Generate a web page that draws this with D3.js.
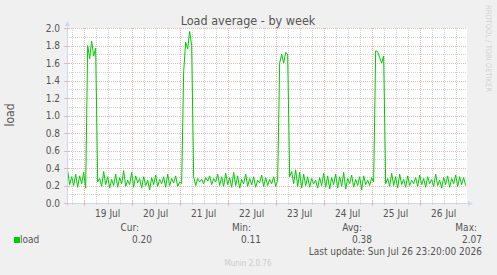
<!DOCTYPE html>
<html>
<head>
<meta charset="utf-8">
<script src="https://cdn.jsdelivr.net/npm/d3@7"></script>
<style>
  body { margin: 0; background: #f0f0f0; }
  svg { display: block; }
  text { font-family: "DejaVu Sans Condensed", "DejaVu Sans", sans-serif; font-stretch: condensed; fill: #555; }
</style>
</head>
<body>
<div id="chart"></div>
<script>
// hourly load readings, one list per day (Jul 18 starts at 16:00)
var jul18 = [0.37, 0.21, 0.30, 0.20, 0.33, 0.18, 0.31, 0.22];
var jul19 = [0.35, 0.17, 1.80, 1.65, 1.85, 1.68, 1.77, 0.24, 0.28, 0.19, 0.36, 0.21,
             0.30, 0.17, 0.27, 0.20, 0.33, 0.18, 0.29, 0.22, 0.37, 0.19, 0.26, 0.21];
var jul20 = [0.35, 0.18, 0.31, 0.23, 0.28, 0.17, 0.30, 0.20, 0.26, 0.15, 0.29, 0.21,
             0.32, 0.19, 0.27, 0.22, 0.30, 0.18, 0.33, 0.20, 0.28, 0.23, 0.31, 0.19];
var jul21 = [0.24, 0.22, 1.50, 1.84, 1.76, 1.96, 1.80, 0.30, 0.20, 0.28, 0.24, 0.27,
             0.22, 0.29, 0.25, 0.31, 0.21, 0.28, 0.24, 0.33, 0.20, 0.30, 0.19, 0.34];
var jul22 = [0.21, 0.29, 0.18, 0.35, 0.20, 0.31, 0.17, 0.27, 0.22, 0.33, 0.19, 0.28,
             0.21, 0.30, 0.18, 0.26, 0.23, 0.32, 0.19, 0.29, 0.20, 0.27, 0.22, 0.30];
var jul23 = [0.19, 0.26, 1.60, 1.70, 1.60, 1.72, 1.70, 0.30, 0.36, 0.22, 0.38, 0.19,
             0.35, 0.17, 0.33, 0.20, 0.30, 0.18, 0.28, 0.22, 0.26, 0.17, 0.29, 0.20];
var jul24 = [0.34, 0.18, 0.31, 0.16, 0.29, 0.21, 0.33, 0.17, 0.30, 0.19, 0.35, 0.16,
             0.28, 0.22, 0.32, 0.18, 0.27, 0.20, 0.30, 0.15, 0.31, 0.21, 0.26, 0.20];
var jul25 = [0.29, 0.24, 1.74, 1.73, 1.66, 1.60, 1.68, 0.22, 0.28, 0.19, 0.34, 0.20,
             0.30, 0.17, 0.33, 0.21, 0.27, 0.18, 0.31, 0.20, 0.26, 0.22, 0.29, 0.19];
var jul26 = [0.32, 0.21, 0.28, 0.18, 0.30, 0.22, 0.27, 0.19, 0.33, 0.20, 0.26, 0.17,
             0.29, 0.21, 0.31, 0.18, 0.28, 0.22, 0.32, 0.19, 0.30, 0.21, 0.29, 0.20];

var dayLists = [jul18, jul19, jul20, jul21, jul22, jul23, jul24, jul25, jul26];
var dayStarts = ["2026-07-18T16:00Z", "2026-07-19T00:00Z", "2026-07-20T00:00Z", "2026-07-21T00:00Z",
                 "2026-07-22T00:00Z", "2026-07-23T00:00Z", "2026-07-24T00:00Z", "2026-07-25T00:00Z",
                 "2026-07-26T00:00Z"];
var dayLabels = ["19 Jul", "20 Jul", "21 Jul", "22 Jul", "23 Jul", "24 Jul", "25 Jul", "26 Jul"];
var yTicks = [0.0, 0.2, 0.4, 0.6, 0.8, 1.0, 1.2, 1.4, 1.6, 1.8, 2.0];
var legendHeads = ["Cur:", "Min:", "Avg:", "Max:"];
var legendValues = ["0.20", "0.11", "0.38", "2.07"];

function drawChart() {
  var width = 497, height = 275;
  var pLeft = 67, pRight = 467, pTop = 28, pBottom = 203;

  var series = [];
  dayLists.forEach(function(list, i) {
    var t0 = new Date(dayStarts[i]);
    list.forEach(function(v, j) {
      series.push({ t: d3.utcHour.offset(t0, j), v: v });
    });
  });

  var x = d3.scaleUtc()
    .domain([new Date("2026-07-18T15:40Z"), new Date("2026-07-26T23:40Z")])
    .range([pLeft, pRight]);
  var y = d3.scaleLinear().domain([0, 2]).range([pBottom, pTop]);

  var svg = d3.select("#chart").append("svg")
    .attr("width", width)
    .attr("height", height);

  svg.append("rect")
    .attr("x", pLeft).attr("y", pTop)
    .attr("width", pRight - pLeft).attr("height", pBottom - pTop)
    .attr("fill", "white");

  var px = function(v) { return Math.round(v) + 0.5; };

  var minorX = d3.utcHour.every(6).range(x.domain()[0], x.domain()[1]).filter(d => d.getUTCHours() !== 0);
  var majorX = d3.utcDay.range(x.domain()[0], x.domain()[1]);
  var minorY = d3.range(1, 20, 2).map(d => d / 10);

  var minorColor = "#d2d2d2", majorColor = "#eeb4b4";

  // grid
  var grid = svg.append("g");
  grid.selectAll(".vminor").data(minorX).join("line")
    .attr("x1", d => px(x(d))).attr("x2", d => px(x(d)))
    .attr("y1", pTop).attr("y2", pBottom)
    .attr("stroke", minorColor).attr("stroke-dasharray", "1,1");
  grid.selectAll(".hminor").data(minorY).join("line")
    .attr("y1", d => px(y(d))).attr("y2", d => px(y(d)))
    .attr("x1", pLeft).attr("x2", pRight)
    .attr("stroke", minorColor).attr("stroke-dasharray", "1,1");
  grid.selectAll(".vmajor").data(majorX).join("line")
    .attr("x1", d => px(x(d))).attr("x2", d => px(x(d)))
    .attr("y1", pTop).attr("y2", pBottom)
    .attr("stroke", majorColor).attr("stroke-dasharray", "1,1");
  grid.selectAll(".hmajor").data(yTicks.slice(1)).join("line")
    .attr("y1", d => px(y(d))).attr("y2", d => px(y(d)))
    .attr("x1", pLeft).attr("x2", pRight)
    .attr("stroke", majorColor).attr("stroke-dasharray", "1,1");

  // load line
  var line = d3.line().x(d => x(d.t)).y(d => y(d.v));
  svg.append("path")
    .datum(series)
    .attr("d", line)
    .attr("fill", "none")
    .attr("stroke", "#00cc00")
    .attr("stroke-width", 1);

  // axes
  var axisColor = "#cfd6f8";
  svg.append("line")
    .attr("x1", pLeft - 3).attr("x2", pRight + 2)
    .attr("y1", px(pBottom)).attr("y2", px(pBottom))
    .attr("stroke", axisColor);
  svg.append("line")
    .attr("x1", px(pLeft)).attr("x2", px(pLeft))
    .attr("y1", pBottom + 3).attr("y2", pTop - 3)
    .attr("stroke", axisColor);
  svg.append("path")
    .attr("d", `M${pRight + 1},${pBottom - 2} L${pRight + 6},${pBottom + 0.5} L${pRight + 1},${pBottom + 3} Z`)
    .attr("fill", axisColor);
  svg.append("path")
    .attr("d", `M${pLeft - 2},${pTop - 2} L${pLeft + 0.5},${pTop - 7} L${pLeft + 3},${pTop - 2} Z`)
    .attr("fill", axisColor);

  svg.selectAll(".xtick").data(majorX).join("line")
    .attr("x1", d => px(x(d))).attr("x2", d => px(x(d)))
    .attr("y1", pBottom - 2).attr("y2", pBottom + 3)
    .attr("stroke", majorColor);
  svg.selectAll(".xtickm").data(minorX).join("line")
    .attr("x1", d => px(x(d))).attr("x2", d => px(x(d)))
    .attr("y1", pBottom - 1).attr("y2", pBottom + 2)
    .attr("stroke", minorColor);
  svg.selectAll(".ytick").data(yTicks).join("line")
    .attr("x1", pLeft - 3).attr("x2", pLeft + 2)
    .attr("y1", d => px(y(d))).attr("y2", d => px(y(d)))
    .attr("stroke", majorColor);

  // tick labels
  svg.selectAll(".ylab").data(yTicks).join("text")
    .attr("x", 60).attr("y", d => y(d) + 3.5)
    .attr("text-anchor", "end")
    .attr("font-size", 10)
    .text(d => d.toFixed(1));
  svg.selectAll(".xlab").data(dayLabels).join("text")
    .attr("x", (d, i) => x(d3.utcHour.offset(majorX[i], 12)))
    .attr("y", 217)
    .attr("text-anchor", "middle")
    .attr("font-size", 10)
    .text(d => d);

  // title and side texts
  svg.append("text")
    .attr("x", 248).attr("y", 25)
    .attr("text-anchor", "middle")
    .attr("font-size", 12.5)
    .text("Load average - by week");
  svg.append("text")
    .attr("transform", "translate(14,115) rotate(-90)")
    .attr("text-anchor", "middle")
    .attr("font-size", 12)
    .text("load");
  svg.append("text")
    .attr("transform", "translate(486,5) rotate(90)")
    .attr("font-size", 7.5)
    .style("fill", "#d2d2d2")
    .text("RRDTOOL / TOBI OETIKER");

  // legend
  svg.append("rect")
    .attr("x", 14).attr("y", 237)
    .attr("width", 6).attr("height", 6)
    .attr("fill", "#00cc00");
  svg.append("text")
    .attr("x", 20).attr("y", 243)
    .attr("font-size", 10)
    .text("load");

  var headRight = [139, 251, 362, 477];
  var valueRight = [152, 261, 372, 482];
  svg.selectAll(".lhead").data(legendHeads).join("text")
    .attr("x", (d, i) => headRight[i]).attr("y", 231)
    .attr("text-anchor", "end")
    .attr("font-size", 10)
    .text(d => d);
  svg.selectAll(".lval").data(legendValues).join("text")
    .attr("x", (d, i) => valueRight[i]).attr("y", 243)
    .attr("text-anchor", "end")
    .attr("font-size", 10)
    .text(d => d);

  svg.append("text")
    .attr("x", 482).attr("y", 255)
    .attr("text-anchor", "end")
    .attr("font-size", 10)
    .text("Last update: Sun Jul 26 23:20:00 2026");

  svg.append("text")
    .attr("x", 248).attr("y", 266)
    .attr("text-anchor", "middle")
    .attr("font-size", 8)
    .style("fill", "#cccccc")
    .text("Munin 2.0.76");
}

drawChart();
</script>
</body>
</html>
